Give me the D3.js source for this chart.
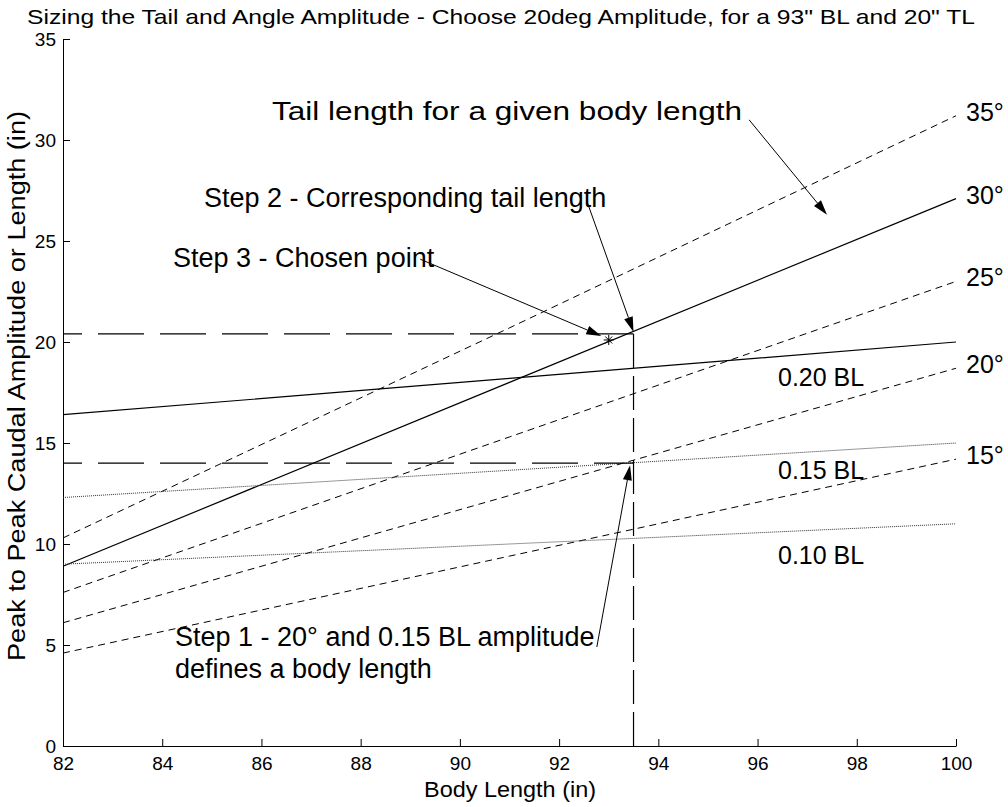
<!DOCTYPE html>
<html><head><meta charset="utf-8">
<script src="https://cdn.jsdelivr.net/npm/d3@7"></script>
<style>
html,body{margin:0;padding:0;background:#fff;}
text{font-family:"Liberation Sans",Arial,Helvetica,sans-serif;fill:#000;}
</style></head>
<body>
<svg id="chart" width="1008" height="807"></svg>
<script>
// ---- data ----
const bodyLength = [82, 91, 100];
const tailLength = [8.9, 18.0, 27.1];      // 30° line = tail length
const amp35 = [10.3, 20.7, 31.2];
const amp25 = [7.6, 15.3, 23.0];
const amp20 = [6.1, 12.4, 18.7];
const amp15 = [4.6, 9.4, 14.2];
const bl20 = [16.4, 18.2, 20.0];
const bl15 = [12.3, 13.65, 15.0];
const bl10 = [9.0, 10.0, 11.0];
const xTicks = [82, 84, 86, 88, 90, 92, 94, 96, 98, 100];
const yTicks = [0, 5, 10, 15, 20, 25, 30, 35];
const chosenBL = 93.5;
const chosenTL = 20.4;
const step1Amp = 14.0;
const chosenPoint = [93, 20.1];
const angleLabels = ["35°", "30°", "25°", "20°", "15°"];
const angleLabelY = [31.2, 27.1, 23.0, 18.7, 14.2];
const blLabels = ["0.20 BL", "0.15 BL", "0.10 BL"];
const blLabelY = [18.1, 13.5, 9.3];

const svg = d3.select("#chart");
const x = d3.scaleLinear().domain([82, 100]).range([63, 956]);
const y = d3.scaleLinear().domain([0, 35]).range([746, 39]);

// title
svg.append("text").attr("x", 27).attr("y", 24).attr("font-size", 21)
  .attr("textLength", 948).attr("lengthAdjust", "spacingAndGlyphs")
  .text('Sizing the Tail and Angle Amplitude - Choose 20deg Amplitude, for a 93" BL and 20" TL');

// axes
const gx = svg.append("g").attr("transform", `translate(0,${y(0)})`)
  .call(d3.axisBottom(x).tickValues(xTicks).tickSizeInner(-7).tickSizeOuter(0).tickPadding(11).tickFormat(d3.format("d")));
const gy = svg.append("g").attr("transform", `translate(${x(82)},0)`)
  .call(d3.axisLeft(y).tickValues(yTicks).tickSizeInner(-7).tickSizeOuter(0).tickPadding(7).tickFormat(d3.format("d")));
[gx, gy].forEach(g => {
  g.selectAll("text").attr("font-size", 19).attr("font-family", '"Liberation Sans",Arial,sans-serif').attr("fill", "#000");
  g.selectAll("line,path").attr("stroke", "#000").attr("stroke-width", 1);
});

svg.append("text").attr("x", 510).attr("y", 797).attr("text-anchor", "middle").attr("font-size", 22)
  .attr("textLength", 172).attr("lengthAdjust", "spacingAndGlyphs")
  .text("Body Length (in)");
svg.append("text").attr("transform", `translate(25,${386}) rotate(-90)`).attr("text-anchor", "middle").attr("font-size", 23)
  .attr("textLength", 550).attr("lengthAdjust", "spacingAndGlyphs")
  .text("Peak to Peak Caudal Amplitude or Length (in)");

const line = d3.line().x((d, i) => x(bodyLength[i])).y(d => y(d));
function drawSeries(vals, dash, width, color) {
  svg.append("path").datum(vals).attr("d", line).attr("fill", "none")
    .attr("stroke", color || "#000").attr("stroke-width", width || 1)
    .attr("stroke-dasharray", dash || null);
}
drawSeries(amp35, "7,5");
drawSeries(amp25, "7,5");
drawSeries(amp20, "7,5");
drawSeries(amp15, "7,5");
drawSeries(tailLength, null, 1.2);
drawSeries(bl20, null, 1.2);
drawSeries(bl15, "1,1", 1, "#333");
drawSeries(bl10, "1,1", 1, "#333");

// guide lines
svg.append("line").attr("x1", x(chosenBL)).attr("x2", x(chosenBL)).attr("y1", y(0)).attr("y2", y(chosenTL))
  .attr("stroke", "#000").attr("stroke-width", 1.2).attr("stroke-dasharray", "34,8");
[chosenTL, step1Amp].forEach(v => {
  svg.append("line").attr("x1", x(82)).attr("x2", x(chosenBL)).attr("y1", y(v)).attr("y2", y(v))
    .attr("stroke", "#000").attr("stroke-width", 1.3).attr("stroke-dasharray", "46,16").attr("stroke-dashoffset", 27);
});

// chosen point marker
const cp = [x(chosenPoint[0]), y(chosenPoint[1])];
const ms = 5;
const mk = svg.append("g").attr("stroke", "#000").attr("stroke-width", 1);
mk.append("line").attr("x1", cp[0] - ms).attr("x2", cp[0] + ms).attr("y1", cp[1]).attr("y2", cp[1]);
mk.append("line").attr("x1", cp[0]).attr("x2", cp[0]).attr("y1", cp[1] - ms).attr("y2", cp[1] + ms);
mk.append("line").attr("x1", cp[0] - ms * 0.7).attr("x2", cp[0] + ms * 0.7).attr("y1", cp[1] - ms * 0.7).attr("y2", cp[1] + ms * 0.7);
mk.append("line").attr("x1", cp[0] - ms * 0.7).attr("x2", cp[0] + ms * 0.7).attr("y1", cp[1] + ms * 0.7).attr("y2", cp[1] - ms * 0.7);

// labels
angleLabels.forEach((t, i) => {
  svg.append("text").attr("x", 966).attr("y", y(angleLabelY[i]) + 5).attr("font-size", 25).text(t);
});
blLabels.forEach((t, i) => {
  svg.append("text").attr("x", 778).attr("y", y(blLabelY[i]) + 6).attr("font-size", 25).text(t);
});

// annotations with arrows
const annotations = [
  { lines: ["Tail length for a given body length"], tx: 272, ty: 120, size: 25, width: 470, from: [95.83, 31.0], to: [97.4, 26.3] },
  { lines: ["Step 2 - Corresponding tail length"], tx: 204, ty: 207, from: [92.57, 26.9], to: [93.5, 20.5] },
  { lines: ["Step 3 - Chosen point"], tx: 173, ty: 267, from: [89.2, 24.1], to: [92.85, 20.3] },
  { lines: ["Step 1 - 20° and 0.15 BL amplitude", "defines a body length"], tx: 175, ty: 646, from: [92.76, 4.9], to: [93.43, 13.9] }
];
annotations.forEach(a => {
  const t = svg.append("text").attr("x", a.tx).attr("y", a.ty).attr("font-size", a.size || 27);
  if (a.width) t.attr("textLength", a.width).attr("lengthAdjust", "spacingAndGlyphs");
  a.lines.forEach((l, i) => t.append("tspan").attr("x", a.tx).attr("dy", i ? 32 : 0).text(l));
  const x0 = x(a.from[0]), y0 = y(a.from[1]), x1 = x(a.to[0]), y1 = y(a.to[1]);
  const ang = Math.atan2(y1 - y0, x1 - x0);
  const L = 15, W = 4.5;
  const bx = x1 - L * Math.cos(ang), by = y1 - L * Math.sin(ang);
  svg.append("line").attr("x1", x0).attr("y1", y0).attr("x2", bx).attr("y2", by).attr("stroke", "#000").attr("stroke-width", 1);
  const p = [[x1, y1], [bx + W * Math.sin(ang), by - W * Math.cos(ang)], [bx - W * Math.sin(ang), by + W * Math.cos(ang)]];
  svg.append("path").attr("d", "M" + p.map(q => q.join(",")).join("L") + "Z").attr("fill", "#000");
});
</script>
</body></html>
